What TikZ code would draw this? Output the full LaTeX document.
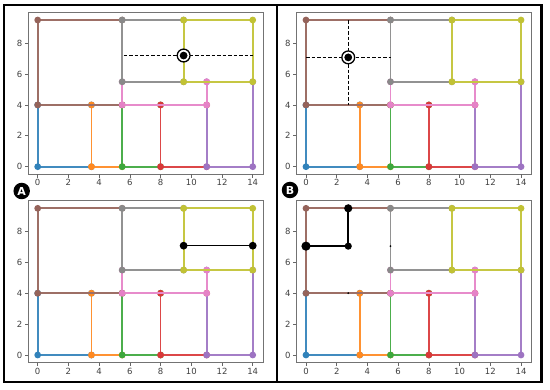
\documentclass[tikz,border=0pt]{standalone}
\usepackage{fontspec}
\setmainfont{DejaVu Sans}
\definecolor{cblue}{HTML}{1F77B4}
\definecolor{corange}{HTML}{FF7F0E}
\definecolor{cgreen}{HTML}{2CA02C}
\definecolor{cred}{HTML}{D62728}
\definecolor{cpurple}{HTML}{9467BD}
\definecolor{cbrown}{HTML}{8C564B}
\definecolor{cpink}{HTML}{E377C2}
\definecolor{cgray}{HTML}{7F7F7F}
\definecolor{colive}{HTML}{BCBD22}
\tikzset{
  roomline/.style={line width=1.8pt, line join=round},
  axframe/.style={draw=black!55, line width=1pt},
  tickmark/.style={draw=black!60, line width=0.7pt},
  ticklabel/.style={font=\fontsize{8.5}{9}\selectfont, text=black!75, inner sep=0pt},
  pathline/.style={line width=1.6pt, draw=black},
  dashline/.style={line width=1.2pt, draw=black, dash pattern=on 3.5pt off 2pt},
  badge/.style={circle, fill=black, text=white, font=\bfseries\fontsize{11}{11}\selectfont, minimum size=16.5pt, inner sep=0pt},
  panelborder/.style={line width=2.6pt, draw=black},
}
\newcommand\drawroom[5]{%
  \draw[roomline, draw=#1!85!white] (#2,#3) rectangle (#4,#5);
  \foreach \px/\py in {#2/#3,#4/#3,#4/#5,#2/#5}
    \fill[#1!92!white] (\px,\py) circle[radius=3.4pt];
}
\newcommand\plotbase[1]{%
  \drawroom{cblue}{0}{0}{3.5}{4}
  \drawroom{corange}{3.5}{0}{5.5}{4}
  \drawroom{cgreen}{5.5}{0}{8}{4}
  \drawroom{cred}{8}{0}{11}{4}
  \drawroom{cpurple}{11}{0}{14}{5.5}
  \drawroom{cbrown}{0}{4}{5.5}{9.5}
  \drawroom{cpink}{5.5}{4}{11}{5.5}
  \drawroom{cgray}{5.5}{5.5}{9.5}{9.5}
  \drawroom{colive}{9.5}{5.5}{14}{9.5}
  \draw[axframe] (-0.63,-0.5) rectangle (14.67,10);
  \foreach \t in {0,2,...,14} {
    \draw[tickmark] (\t,-0.5) -- ++(0,-3.5pt);
    \node[ticklabel, anchor=north] (#1x\t) at ([yshift=-5pt]\t,-0.5) {\t};
  }
  \foreach \t in {0,2,...,8} {
    \draw[tickmark] (-0.63,\t) -- ++(-3.5pt,0);
    \node[ticklabel, anchor=east] (#1y\t) at ([xshift=-5.5pt]-0.63,\t) {\t};
  }
}
\newcommand\target[3]{%
  \draw[black, line width=1.3pt, fill=white] (#2,#3) circle[radius=6.4pt];
  \fill[black] (#2,#3) circle[radius=3.9pt];
  \coordinate (#1) at (#2,#3);
}
\begin{document}
\begin{tikzpicture}[x=1pt, y=-1pt]
\useasboundingbox (0,0) rectangle (550,390);
\fill[white] (0,0) rectangle (550,390);

% Panel A, top
\begin{scope}[shift={(37.7,166.7)}, x=15.36pt, y=15.44pt]
  \plotbase{at}
  \coordinate (adl) at (5.6,7.2);
  \coordinate (adr) at (14,7.2);
  \draw[dashline] (adl) -- (adr);
  \target{atg}{9.5}{7.2}
\end{scope}

% Panel A, bottom
\begin{scope}[shift={(37.7,355)}, x=15.36pt, y=15.44pt]
  \plotbase{ab}
  \coordinate (ab1) at (9.5,7.08);
  \coordinate (ab2) at (14,7.08);
  \draw[pathline] (ab1) -- (ab2);
  \fill[black] (ab1) circle[radius=3.9pt];
  \fill[black] (ab2) circle[radius=3.9pt];
\end{scope}

% Panel B, top
\begin{scope}[shift={(306,166.7)}, x=15.36pt, y=15.44pt]
  \plotbase{bt}
  \coordinate (bh1) at (0,7.08);
  \coordinate (bh2) at (5.55,7.08);
  \coordinate (bv1) at (2.75,9.5);
  \coordinate (bv2) at (2.75,3.97);
  \draw[dashline] (bh1) -- (bh2);
  \draw[dashline] (bv1) -- (bv2);
  \target{btg}{2.75}{7.08}
\end{scope}

% Panel B, bottom
\begin{scope}[shift={(306,355)}, x=15.36pt, y=15.44pt]
  \plotbase{bb}
  \coordinate (bb1) at (0,7.05);
  \coordinate (bb2) at (2.75,7.05);
  \coordinate (bb3) at (2.75,9.5);
  \coordinate (bb4) at (5.5,7.05);
  \coordinate (bb5) at (2.75,4);
  \draw[pathline] (bb1) -- (bb2) -- (bb3);
  \fill[black] (bb1) circle[radius=4.6pt];
  \fill[black] (bb2) circle[radius=3.6pt];
  \fill[black] (bb3) circle[radius=4.1pt];
  \fill[black] (bb4) circle[radius=1pt];
  \fill[black] (bb5) circle[radius=1pt];
\end{scope}

% borders and badges
\draw[panelborder] (4,5) rectangle (541.5,382);
\draw[panelborder] (277,5) -- (277,382);
\node[badge] (labA) at (21.7,191) {A};
\node[badge] (labB) at (290,190) {B};
\end{tikzpicture}
\end{document}
